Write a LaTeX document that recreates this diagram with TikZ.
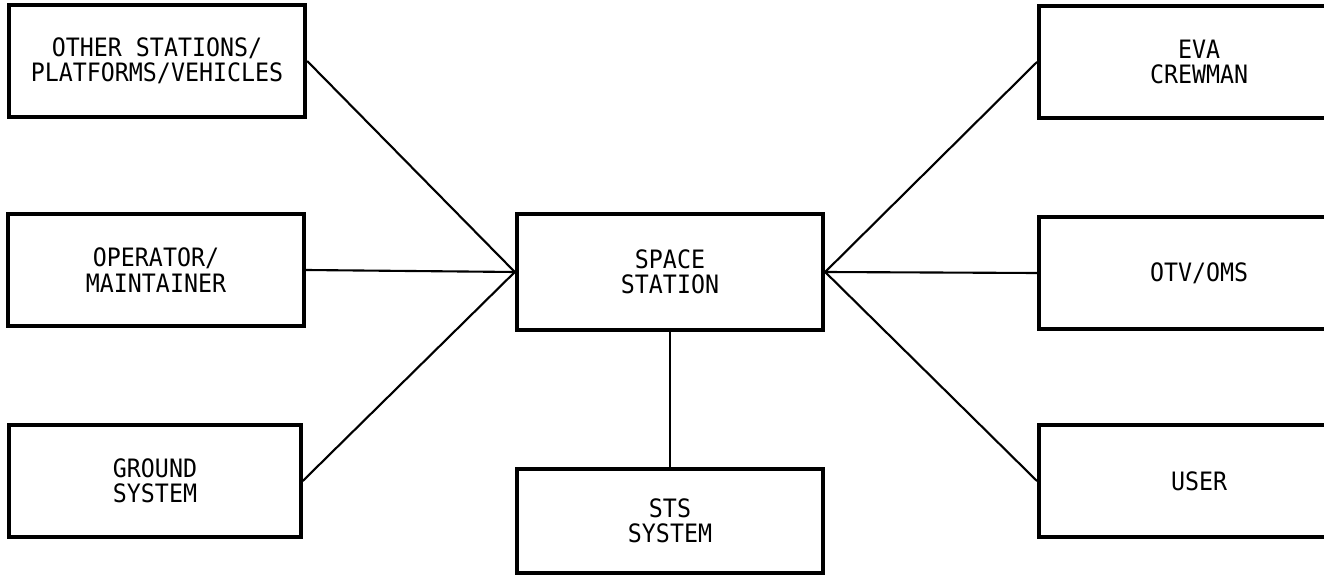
\documentclass[tikz,border=0pt]{standalone}
\usepackage{fontspec}
\setmonofont[FakeStretch=0.92]{DejaVu Sans Mono}
\usetikzlibrary{positioning}
\tikzset{
  block/.style={rectangle, draw=black, line width=3pt, minimum width=7.4cm, minimum height=2.8cm, align=center, inner sep=0pt, font=\ttfamily\fontsize{18}{18}\selectfont},
  link/.style={line width=1.5pt}
}
\begin{document}
\begin{tikzpicture}[x=0.025cm, y=-0.025cm]
  \useasboundingbox (0,0) rectangle (1324,583);
  % left column
  \node (other) [block] at (157,61) {OTHER STATIONS/\\PLATFORMS/VEHICLES};
  \node (oper) [block] at (156,270) {OPERATOR/\\MAINTAINER};
  \node (ground) [block, minimum width=7.28cm] at (155,481) {GROUND\\SYSTEM};
  % centre
  \node (station) [block, minimum width=7.65cm, minimum height=2.88cm] at (670,272) {SPACE\\STATION};
  \node (sts) [block, minimum width=7.65cm, minimum height=2.58cm] at (670,521) {STS\\SYSTEM};
  % right column (runs off the page edge)
  \node (eva) [block, minimum width=8cm, anchor=west] at (1037,62) {EVA\\CREWMAN};
  \node (otv) [block, minimum width=8cm, anchor=west] at (1037,273) {OTV/OMS};
  \node (user) [block, minimum width=8cm, anchor=west] at (1037,481) {USER};

  \draw [link] (other.east) -- (station.west);
  \draw [link] (oper.east) -- (station.west);
  \draw [link] (ground.east) -- (station.west);
  \draw [link] (station.east) -- (eva.west);
  \draw [link] (station.east) -- (otv.west);
  \draw [link] (station.east) -- (user.west);
  \draw [link] (station.south) -- (sts.north);
\end{tikzpicture}
\end{document}
